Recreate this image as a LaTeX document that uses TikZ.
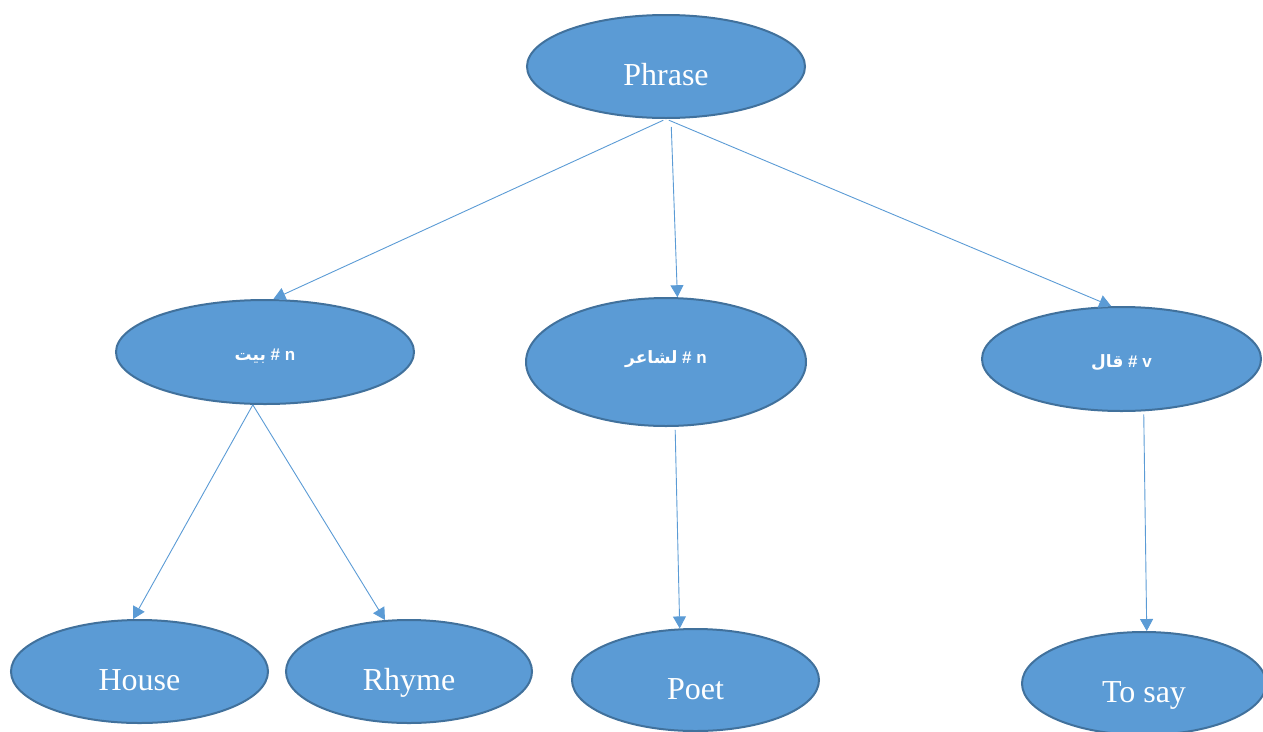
\documentclass[tikz,border=0pt]{standalone}
\usepackage{fontspec}
\setmainfont{Liberation Serif}
\newfontfamily\labelfont{Liberation Sans}
\newfontfamily\arabicfont[Script=Arabic]{DejaVu Sans}
\TeXXeTstate=1
\usetikzlibrary{shapes.geometric,arrows.meta}
\definecolor{blobfill}{HTML}{5B9BD5}
\definecolor{blobedge}{HTML}{41719C}
\begin{document}
\begin{tikzpicture}[x=1pt,y=-1pt,
  blob/.style={ellipse,fill=blobfill,draw=blobedge,line width=2pt,inner sep=0pt},
  word/.style={blob,text=white,font=\fontsize{32}{32}\selectfont,text height=38pt,text depth=0pt},
  tag/.style={blob,text=white,font=\labelfont\bfseries\fontsize{17}{17}\selectfont,text height=16pt,text depth=0pt},
  link/.style={draw=blobfill,line width=0.9pt,-{Triangle[width=13pt,length=12pt]}}]
\useasboundingbox (0,0) rectangle (1263,731);

% top level
\node[word,minimum width=278pt,minimum height=103pt] (phrase) at (666,66.5) {Phrase};

% second level: tagged Arabic words
\node[tag,minimum width=298pt,minimum height=104pt] (bayt) at (265,352)
  {{\arabicfont\beginR بيت\endR} \# n};
\node[tag,minimum width=280pt,minimum height=128pt,text height=8pt,text depth=6pt] (shair) at (666,362)
  {{\arabicfont\beginR لشاعر\endR} \# n};
\node[tag,minimum width=279pt,minimum height=104pt] (qal) at (1121.5,359)
  {{\arabicfont\beginR قال\endR} \# v};

% glosses
\node[word,minimum width=257pt,minimum height=103pt] (house) at (139.5,671.5) {House};
\node[word,minimum width=246pt,minimum height=103pt] (rhyme) at (409,671.5) {Rhyme};
\node[word,minimum width=247pt,minimum height=102pt] (poet) at (695.5,680) {Poet};
\node[word,minimum width=244pt,minimum height=103pt] (tosay) at (1144,683.5) {To say};

% connectors
\draw[link,shorten <=3pt] (phrase.south) -- (bayt.81);
\draw[link,shorten <=8pt] ([xshift=5pt]phrase.south) -- (shair.80);
\draw[link,shorten <=3pt] (phrase.south) -- (qal.101);
\draw[link] (bayt.257) -- (house.97);
\draw[link] (bayt.257) -- (rhyme.115);
\draw[link,shorten <=3pt] (shair.278) -- (poet.107);
\draw[link,shorten <=3pt] (qal.293) -- (tosay.87);
\end{tikzpicture}
\end{document}
